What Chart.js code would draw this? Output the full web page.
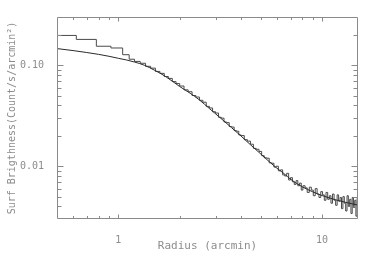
<!DOCTYPE html>
<html>
<head>
<meta charset="utf-8">
<script src="https://cdn.jsdelivr.net/npm/chart.js@4.4.1/dist/chart.umd.min.js"></script>
<style>
  html, body { margin: 0; padding: 0; background: #ffffff; }
  #wrap { width: 382px; height: 255px; position: relative; }
</style>
</head>
<body>
<div id="wrap"><canvas id="c" width="382" height="255"></canvas></div>
<script>
// ---- data ----
// observed profile: start radius of each bin (arcmin) and surface brightness of the bin
const binStart = [0.5,0.622,0.78,0.92,1.05,1.13,1.20,1.28,1.36,1.44,1.52,1.60,1.68,1.76,1.84,1.92,
  2.0,2.1,2.2,2.3,2.4,2.5,2.6,2.7,2.8,2.9,3.0,3.1,3.2,3.3,3.4,3.5,3.6,3.7,3.8,3.9,
  4.0,4.15,4.30,4.45,4.60,4.75,4.90,5.05,5.20,5.35,5.50,5.65,5.80,5.95,6.10,6.25,6.40,6.55,6.70,6.85,
  7.00,7.15,7.30,7.45,7.60,7.75,7.90,8.05,8.25,8.45,8.65,8.85,9.05,9.25,9.45,9.65,9.85,
  10.05,10.25,10.45,10.65,10.85,11.05,11.25,11.45,11.65,11.85,12.05,12.25,12.45,12.65,12.85,
  13.05,13.25,13.45,13.65,13.85,14.05,14.25,14.45,14.65,14.85,15.05];
const binBright = [0.197,0.180,0.154,0.148,0.127,0.1146,0.109,0.1045,0.0975,0.0935,0.0868,0.0830,0.0772,0.0740,0.0688,0.0658,
  0.0622,0.0570,0.0546,0.0501,0.0484,0.0449,0.0430,0.0391,0.0377,0.0346,0.0336,0.0305,0.0299,0.0274,0.0270,0.0247,0.0244,0.0225,0.0222,0.0204,
  0.0201,0.0183,0.0177,0.0165,0.0150,0.0147,0.0140,0.0127,0.0121,0.0120,0.0108,0.0107,0.0098,0.0100,0.0090,0.0092,0.0082,0.0080,0.0085,0.0073,
  0.0077,0.0070,0.0066,0.0072,0.0064,0.0068,0.0058,0.0064,
  0.0061,0.0055,0.0062,0.0058,0.0051,0.0060,0.0053,0.0049,0.0056,0.0052,
  0.0046,0.0055,0.0047,0.0051,0.0043,0.0053,0.0046,0.0041,0.0052,0.0045,
  0.0049,0.0038,0.0050,0.0043,0.0036,0.0051,0.0040,0.0047,0.0034,0.0049,
  0.0039,0.0046,0.0032,0.0048,0.0033];

// fitted model curve
const modelRadius = [0.5,0.6,0.7,0.8,0.9,1.0,1.1,1.2,1.34,1.5,1.7,2.0,2.25,2.5,2.8,3.13,3.6,4.0,4.45,4.9,5.5,6.0,6.5,7.0,8.0,9.0,10,12,15];
const modelBright = [0.146,0.1395,0.1335,0.128,0.1225,0.117,0.1125,0.1075,0.100,0.0895,0.0776,0.0615,0.0528,0.0453,0.0372,0.0307,0.0240,0.0199,0.0163,0.0137,0.0111,0.00955,0.00845,0.00743,0.00624,0.00557,0.00512,0.00457,0.00412];

// axis ticks
const xMajorTicks = [1, 10];
const xMinorTicks = [0.6,0.7,0.8,0.9,2,3,4,5,6,7,8,9];
const yMajorTicks = [0.01, 0.1];
const yMinorTicks = [0.004,0.005,0.006,0.007,0.008,0.009,0.02,0.03,0.04,0.05,0.06,0.07,0.08,0.09,0.2];

const xTitle = 'Radius (arcmin)';
const yTitle = 'Surf Brigthness(Count/s/arcmin\u00B2)';

// ---- styles ----
const textColor = '#8c8c8c';
const axisColor = '#8a8a8a';
const monoFont = "'DejaVu Sans Mono', 'Liberation Mono', monospace";

const frameTicks = {
  id: 'frameTicks',
  afterDatasetsDraw(chart) {
    const { ctx, chartArea: a, scales: { x, y } } = chart;
    const L = Math.round(a.left) + 0.5, R = Math.round(a.right) - 0.5;
    const T = Math.round(a.top) + 0.5, B = Math.round(a.bottom) - 0.5;
    ctx.save();
    ctx.strokeStyle = axisColor;
    ctx.lineWidth = 1;
    ctx.beginPath();
    ctx.rect(L, T, R - L, B - T);
    // x ticks (bottom and top, pointing inward)
    const xt = [...xMajorTicks.map(v => [v, 4]), ...xMinorTicks.map(v => [v, 2.5])];
    xt.forEach(([v, len]) => {
      const px = Math.round(x.getPixelForValue(v)) + 0.5;
      ctx.moveTo(px, B); ctx.lineTo(px, B - len);
      ctx.moveTo(px, T); ctx.lineTo(px, T + len);
    });
    // y ticks (left and right, pointing inward)
    const yt = [...yMajorTicks.map(v => [v, 6]), ...yMinorTicks.map(v => [v, 4])];
    yt.forEach(([v, len]) => {
      const py = Math.round(y.getPixelForValue(v)) + 0.5;
      ctx.moveTo(L, py); ctx.lineTo(L + len, py);
      ctx.moveTo(R, py); ctx.lineTo(R - len, py);
    });
    ctx.stroke();
    ctx.restore();
  }
};

new Chart(document.getElementById('c'), {
  type: 'line',
  data: {
    datasets: [
      {
        label: 'model',
        data: modelRadius.map((r, i) => ({ x: r, y: modelBright[i] })),
        borderColor: '#2a2a2a',
        borderWidth: 1,
        pointRadius: 0,
        cubicInterpolationMode: 'monotone',
        fill: false
      },
      {
        label: 'data',
        data: binStart.map((r, i) => ({ x: r, y: binBright[i] })),
        borderColor: '#4a4a4a',
        borderWidth: 1,
        pointRadius: 0,
        stepped: 'before',
        fill: false
      }
    ]
  },
  options: {
    responsive: false,
    animation: false,
    devicePixelRatio: 1,
    layout: { padding: { top: 17, right: 24, left: 0, bottom: 0 } },
    plugins: { legend: { display: false }, tooltip: { enabled: false } },
    scales: {
      x: {
        type: 'logarithmic',
        position: 'bottom',
        min: 0.5, max: 15,
        grid: { display: false },
        border: { display: false },
        afterBuildTicks: s => { s.ticks = [...xMinorTicks, ...xMajorTicks].sort((a, b) => a - b).map(v => ({ value: v })); },
        afterFit: s => { s.height = 36; },
        ticks: {
          autoSkip: false, maxRotation: 0, padding: 7,
          color: textColor, font: { family: monoFont, size: 10 },
          callback: v => xMajorTicks.includes(v) ? String(v) : ''
        },
        title: {
          display: true, text: xTitle, color: textColor,
          font: { family: monoFont, size: 11 }, padding: { top: 0, bottom: 2 }
        }
      },
      y: {
        type: 'logarithmic',
        position: 'left',
        min: 0.003, max: 0.3,
        grid: { display: false },
        border: { display: false },
        afterBuildTicks: s => { s.ticks = [...yMinorTicks, ...yMajorTicks].sort((a, b) => a - b).map(v => ({ value: v })); },
        afterFit: s => { s.width = 57; },
        ticks: {
          autoSkip: false, padding: 5,
          color: textColor, font: { family: monoFont, size: 10 },
          callback: v => yMajorTicks.includes(v) ? v.toFixed(2) : ''
        },
        title: {
          display: true, text: yTitle, color: textColor,
          font: { family: monoFont, size: 10 }, padding: { top: 6, bottom: 0 }
        }
      }
    }
  },
  plugins: [frameTicks]
});
</script>
</body>
</html>
